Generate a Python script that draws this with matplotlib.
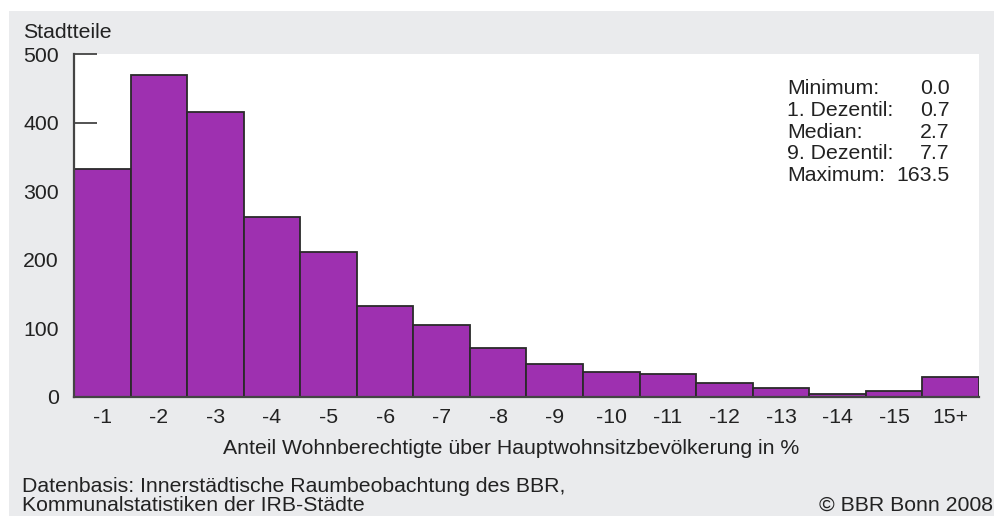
import matplotlib.pyplot as plt
from matplotlib.patches import Rectangle

# histogram classes and counts (Stadtteile per class)
classes = ['-1', '-2', '-3', '-4', '-5', '-6', '-7', '-8',
           '-9', '-10', '-11', '-12', '-13', '-14', '-15', '15+']
counts = [332, 470, 416, 263, 212, 133, 105, 72,
          48, 36, 33, 20, 13, 5, 9, 29]

stat_names = ['Minimum:', '1. Dezentil:', 'Median:', '9. Dezentil:', 'Maximum:']
stat_values = ['0.0', '0.7', '2.7', '7.7', '163.5']

W, H = 995, 516
plt.rcParams['font.family'] = ['Liberation Sans', 'DejaVu Sans']
TXT = '#222222'
FS = 15.3


def px(x, y):
    return x / W, 1 - y / H


fig = plt.figure(figsize=(W / 100, H / 100), dpi=100)
fig.patch.set_facecolor('white')
fig.patches.append(Rectangle(px(9, 516), (W - 9) / W, (516 - 11) / H,
                             transform=fig.transFigure, facecolor='#eaebed',
                             edgecolor='none', zorder=-5))

x0, x1, y0, y1 = 74, 979, 54, 397
ax = fig.add_axes([x0 / W, 1 - y1 / H, (x1 - x0) / W, (y1 - y0) / H])
ax.set_facecolor('white')
ax.set_axisbelow(True)

pos = list(range(len(counts)))
ax.bar(pos, counts, width=1.0, align='edge', color='#9e30b0',
       edgecolor='#2a2a2a', linewidth=1.3, zorder=2)

ax.set_xlim(0, len(counts))
ax.set_ylim(0, 500)
ax.set_xticks([p + 0.5 for p in pos])
ax.set_xticklabels(classes)
ax.set_yticks([0, 100, 200, 300, 400, 500])
ax.tick_params(axis='x', length=0, pad=8, labelsize=FS, labelcolor=TXT)
ax.tick_params(axis='y', direction='in', length=16.5, width=1.3,
               color='#444444', pad=11, labelsize=FS, labelcolor=TXT)

for s in ['top', 'right']:
    ax.spines[s].set_visible(False)
for s in ['left', 'bottom']:
    ax.spines[s].set_color('#444444')
    ax.spines[s].set_linewidth(1.6)
    ax.spines[s].set_zorder(3)

# statistics block
for i, (n, v) in enumerate(zip(stat_names, stat_values)):
    yb = 94.3 + i * 21.6
    fig.text(*px(787, yb), n, ha='left', va='baseline', fontsize=FS, color=TXT)
    fig.text(*px(950, yb), v, ha='right', va='baseline', fontsize=FS, color=TXT)

fig.text(*px(23, 38), 'Stadtteile', ha='left', va='baseline', fontsize=FS, color=TXT)
fig.text(*px(511, 454), 'Anteil Wohnberechtigte über Hauptwohnsitzbevölkerung in %',
         ha='center', va='baseline', fontsize=FS, color=TXT)
fig.text(*px(22, 492), 'Datenbasis: Innerstädtische Raumbeobachtung des BBR,',
         ha='left', va='baseline', fontsize=FS, color=TXT)
fig.text(*px(22, 511), 'Kommunalstatistiken der IRB-Städte',
         ha='left', va='baseline', fontsize=FS, color=TXT)
fig.text(*px(993, 511), '© BBR Bonn 2008', ha='right', va='baseline',
         fontsize=FS, color=TXT)

fig.savefig('out.png', dpi=100, facecolor=fig.get_facecolor())
